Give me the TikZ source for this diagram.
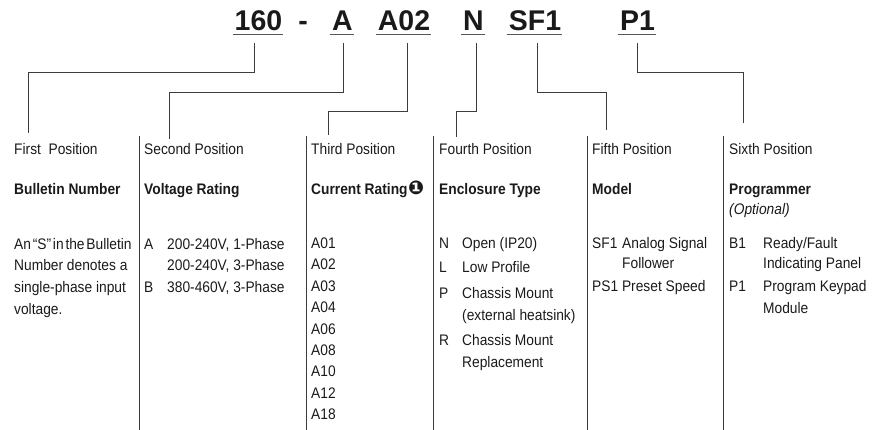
\documentclass[tikz,border=0pt]{standalone}
\usepackage{fontspec}
\usepackage{graphicx}
\setmainfont{Liberation Sans}[FakeStretch=0.9]
\newfontfamily\codefont{Liberation Sans}
\newfontfamily\dingfont{DejaVu Sans}
\definecolor{ink}{HTML}{1A1A1A}
\definecolor{linegray}{HTML}{3C3C3C}
\definecolor{ulgray}{HTML}{555555}
\tikzset{
  txt/.style={anchor=base west, inner sep=0pt, text=ink, font=\fontsize{15.3}{18}\selectfont},
  ttl/.style={txt, font=\fontsize{15.3}{18}\selectfont\bfseries},
  code/.style={anchor=base, inner sep=0pt, text=ink, font=\codefont\fontsize{28.5}{30}\selectfont\bfseries},
  ul/.style={draw=ulgray, line width=1.4pt},
  conn/.style={draw=linegray, line width=1pt},
  sepline/.style={draw=linegray, line width=1pt},
}
\begin{document}
\begin{tikzpicture}[x=1pt,y=-1pt]
\useasboundingbox (0,0) rectangle (878,430);
% ---- code string ----
\node[code] (c160) at (258.5,31) {160};
\node[code] (cdash) at (303,31) {-};
\node[code] (cA) at (342.5,31) {A};
\node[code] (cA02) at (404,31) {A02};
\node[code] (cN) at (473.5,31) {N};
\node[code] (cSF1) at (535,31) {SF1};
\node[code] (cP1) at (637.5,31) {P1};
\foreach \n in {c160,cA,cA02,cN,cSF1,cP1}{
  \draw[ul] ([xshift=-2pt,yshift=-3.5pt]\n.base west) -- ([xshift=1pt,yshift=-3.5pt]\n.base east);
}
% ---- column separators ----
\foreach \x in {139,306,433,587,723}{
  \draw[sepline] (\x,136) -- (\x,430);
}
% ---- headers ----
\node[txt] (h1) at (14,155) {First\ \ Position};
\node[txt] (h2) at (144,155) {Second Position};
\node[txt] (h3) at (311,155) {Third Position};
\node[txt] (h4) at (439,155) {Fourth Position};
\node[txt] (h5) at (592,155) {Fifth Position};
\node[txt] (h6) at (729,155) {Sixth Position};
% ---- connectors ----
\coordinate (k1) at (254,43);  \coordinate (e1) at (28,133);
\coordinate (k2) at (343,43);  \coordinate (e2) at (169,139);
\coordinate (k3) at (407,43);  \coordinate (e3) at (328,135);
\coordinate (k4) at (476,43);  \coordinate (e4) at (456,137);
\coordinate (k5) at (537,43);  \coordinate (e5) at (606,130);
\coordinate (k6) at (637,43);  \coordinate (e6) at (743,123);
\draw[conn] (k1) -- ++(0,30) -| (e1);
\draw[conn] (k2) -- ++(0,50) -| (e2);
\draw[conn] (k3) -- ++(0,69) -| (e3);
\draw[conn] (k4) -- ++(0,69) -| (e4);
\draw[conn] (k5) -- ++(0,50) -| (e5);
\draw[conn] (k6) -- ++(0,30) -| (e6);
% ---- titles ----
\node[ttl] (t1) at (14,195) {Bulletin Number};
\node[ttl] (t2) at (144,195) {Voltage Rating};
\node[ttl] (t3) at (311,195) {Current Rating\hspace{0.5pt}{\dingfont\fontsize{19}{20}\selectfont\char"2776}};
\node[ttl] (t4) at (439,195) {Enclosure Type};
\node[ttl] (t5) at (592,195) {Model};
\node[ttl] (t6) at (729,195) {Programmer};
\node[txt, font=\fontsize{15.3}{18}\selectfont\itshape] (opt) at (729,214.5) {(Optional)};
% ---- first column ----
\node[txt] (p1a) at (14,249.5) {{\spaceskip=1.8pt An “S” in the Bulletin}};
\node[txt] (p1b) at (14,271) {Number denotes a};
\node[txt] (p1c) at (14,292.5) {single-phase input};
\node[txt] (p1d) at (14,314) {voltage.};
% ---- second column ----
\node[txt] (v1k) at (144,249.5) {A};
\node[txt] (v1a) at (167,249.5) {200-240V, 1-Phase};
\node[txt] (v1b) at (167,271) {200-240V, 3-Phase};
\node[txt] (v2k) at (144,292.5) {B};
\node[txt] (v2a) at (167,292.5) {380-460V, 3-Phase};
% ---- third column ----
\foreach \lab [count=\i from 0] in {A01,A02,A03,A04,A06,A08,A10,A12,A18}{
  \node[txt] (r\lab) at (311,{248.5+21.4*\i}) {\lab};
}
% ---- fourth column ----
\node[txt] (eNk) at (439,249) {N};
\node[txt] (eN) at (462,249) {Open (IP20)};
\node[txt] (eLk) at (439,273) {L};
\node[txt] (eL) at (462,273) {Low Profile};
\node[txt] (ePk) at (439,298.5) {P};
\node[txt] (eP) at (462,298.5) {Chassis Mount};
\node[txt] (eP2) at (462,320) {(external heatsink)};
\node[txt] (eRk) at (439,345.5) {R};
\node[txt] (eR) at (462,345.5) {Chassis Mount};
\node[txt] (eR2) at (462,367) {Replacement};
% ---- fifth column ----
\node[txt] (mSk) at (592,248.5) {SF1};
\node[txt] (mS) at (622,248.5) {Analog Signal};
\node[txt] (mS2) at (622,269) {Follower};
\node[txt] (mP) at (592,292) {PS1 Preset Speed};
% ---- sixth column ----
\node[txt] (gBk) at (729,248.5) {B1};
\node[txt] (gB) at (763,248.5) {Ready/Fault};
\node[txt] (gB2) at (763,269) {Indicating Panel};
\node[txt] (gPk) at (729,292) {P1};
\node[txt] (gP) at (763,292) {Program Keypad};
\node[txt] (gP2) at (763,313.5) {Module};
\end{tikzpicture}
\end{document}
